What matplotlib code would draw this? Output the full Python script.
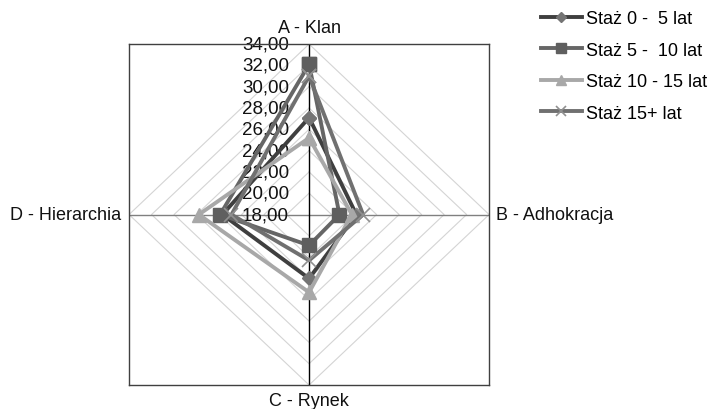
#!/usr/bin/env python3
"""Radar chart of organisational culture profile (A-D) by seniority group."""

import numpy as np
import matplotlib

matplotlib.use("Agg")
import matplotlib.pyplot as plt  # noqa: E402

plt.rcParams["font.family"] = ["Liberation Sans", "DejaVu Sans"]

CATEGORIES = ["A - Klan", "B - Adhokracja", "C - Rynek", "D - Hierarchia"]
SERIES = ["Staż 0 -  5 lat", "Staż 5 -  10 lat", "Staż 10 - 15 lat", "Staż 15+ lat"]
STAZ_0_5 = [27.1, 22.2, 24.0, 25.7]
STAZ_5_10 = [32.1, 20.7, 20.9, 25.9]
STAZ_10_15 = [25.2, 21.8, 25.3, 27.8]
STAZ_15 = [31.0, 22.8, 22.3, 24.9]
TICKS = [18, 20, 22, 24, 26, 28, 30, 32, 34]

R_MIN, R_MAX = TICKS[0], TICKS[-1]
# A up, B right, C down, D left
DIRS = np.array([[0, 1], [1, 0], [0, -1], [-1, 0]])

STYLES = [
    dict(color="#3f3f3f", marker="D", ms=7, mfc="#747474", mec="#747474"),
    dict(color="#666666", marker="s", ms=10, mfc="#5f5f5f", mec="#5f5f5f"),
    dict(color="#a8a8a8", marker="^", ms=10.5, mfc="#a8a8a8", mec="#a8a8a8"),
    dict(color="#707070", marker="x", ms=10, mfc="none", mec="#909090", mew=1.2),
]
FS = 13


def to_xy(values):
    r = np.asarray(values, float) - R_MIN
    pts = DIRS * r[:, None]
    pts = np.vstack([pts, pts[:1]])
    return pts[:, 0], pts[:, 1]


fig = plt.figure(figsize=(7.13, 4.10), dpi=100)
ax = fig.add_axes([0.181, 0.0585, 0.505, 0.8315])
span = R_MAX - R_MIN
ax.set_xlim(-span, span)
ax.set_ylim(-span, span)
ax.set_xticks([])
ax.set_yticks([])
for s in ax.spines.values():
    s.set_color("#404040")
    s.set_linewidth(1.0)

# diamond grid
for t in TICKS[1:]:
    k = t - R_MIN
    ax.plot([0, k, 0, -k, 0], [k, 0, -k, 0, k], color="#d4d4d4", lw=0.8, zorder=1)
ax.plot([-span, span], [0, 0], color="#808080", lw=1.0, zorder=1.5)
ax.plot([0, 0], [-span, span], color="#000000", lw=1.0, zorder=1.5)

for t in TICKS:
    ax.annotate(f"{t:.2f}".replace(".", ","), (0, t - R_MIN), xytext=(-14.5, 0),
                textcoords="offset points", ha="right", va="center",
                fontsize=13.5, color="#111111", zorder=2)

for name, vals, st in zip(SERIES, [STAZ_0_5, STAZ_5_10, STAZ_10_15, STAZ_15], STYLES):
    x, y = to_xy(vals)
    ax.plot(x, y, lw=2.8, label=name, zorder=3, **st)

lab = dict(fontsize=FS, color="#111111")
ax.annotate(CATEGORIES[0], (0, span), xytext=(0, 6), textcoords="offset points",
            ha="center", va="bottom", annotation_clip=False, **lab)
ax.annotate(CATEGORIES[1], (span, 0), xytext=(5, 0), textcoords="offset points",
            ha="left", va="center", annotation_clip=False, **lab)
ax.annotate(CATEGORIES[2], (0, -span), xytext=(0, -5), textcoords="offset points",
            ha="center", va="top", annotation_clip=False, **lab)
ax.annotate(CATEGORIES[3], (-span, 0), xytext=(-6, 0), textcoords="offset points",
            ha="right", va="center", annotation_clip=False, **lab)

fig.legend(loc="upper left", bbox_to_anchor=(0.748, 0.99), frameon=False,
           fontsize=FS, handlelength=2.3, handletextpad=0.2, labelspacing=0.8,
           borderaxespad=0, markerscale=0.7)

fig.savefig("out.png", dpi=100)
